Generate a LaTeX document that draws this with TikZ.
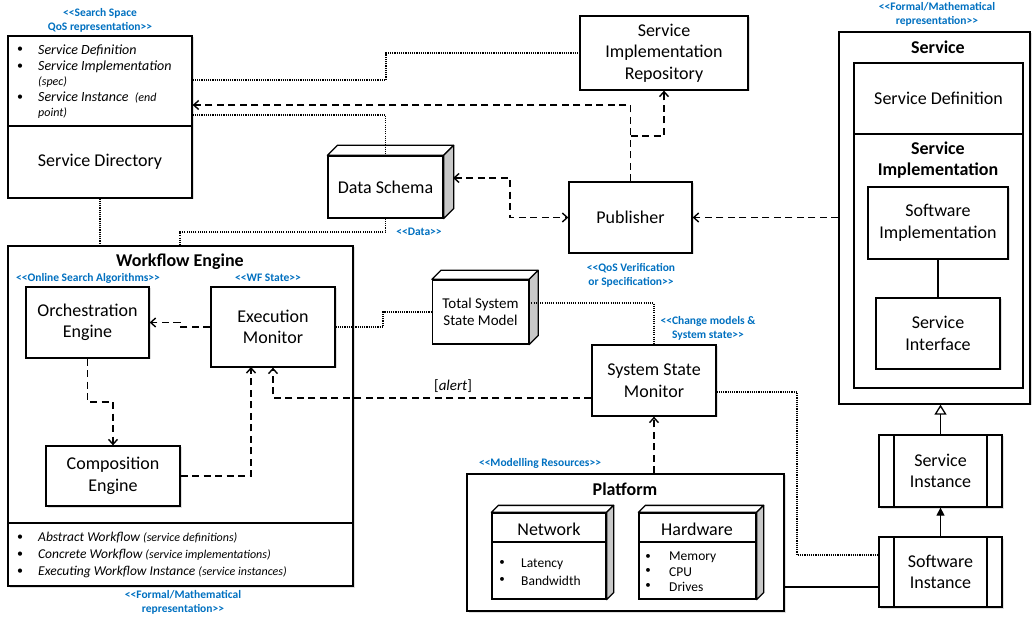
\documentclass[tikz,border=0pt]{standalone}
\usepackage{fontspec}
\setmainfont{Carlito}
\usetikzlibrary{arrows.meta,shadows,calc}
\definecolor{stereo}{RGB}{0,112,192}
\definecolor{sideface}{RGB}{200,200,200}
\newcommand{\fz}[2]{\fontsize{#1}{#2}\selectfont}
\newcommand{\lt}{<{}<}
\newcommand{\gt}{>{}>}
\tikzset{
  box/.style={draw, line width=1.3pt, fill=white, inner sep=0pt, align=center,
    font=\fz{18}{21.5}, drop shadow={opacity=0.25, shadow xshift=1.5pt, shadow yshift=-1.5pt}},
  plainbox/.style={draw, line width=1.3pt, fill=white, inner sep=0pt, align=center, font=\fz{18}{21.5}},
  face/.style={draw, line width=1.3pt, fill=white, line join=round},
  sface/.style={draw, line width=1.3pt, fill=sideface, line join=round},
  stereotype/.style={text=stereo, font=\bfseries\fz{11.5}{14}, align=center, inner sep=0pt},
  lbl/.style={inner sep=0pt, align=center},
  item/.style={inner sep=0pt, anchor=west},
  dashedc/.style={line width=1.8pt, dash pattern=on 7pt off 4.5pt},
  dottedc/.style={line width=1.1pt, dash pattern=on 1.1pt off 1.1pt},
  solidc/.style={line width=1.3pt},
  barb/.style={-{Straight Barb[length=5pt,width=9pt,line width=1.4pt]}},
  barbs/.style={{Straight Barb[length=5pt,width=9pt,line width=1.4pt]}-{Straight Barb[length=5pt,width=9pt,line width=1.4pt]}},
}
\begin{document}
\begin{tikzpicture}[x=1pt,y=-1pt]
\useasboundingbox (0,0) rectangle (1034,617);

% ---------- Service Directory ----------
\node[box, minimum width=184pt, minimum height=162pt] (sd) at (100,117) {};
\draw[solidc] (8,126) -- (192,126);
\node[lbl, font=\fz{18}{21}] (sdname) at (100,162) {Service Directory};
\node[inner sep=0pt] (sdb1) at (20,50) {\fz{12}{14}\textbullet};
\node[inner sep=0pt] (sdb2) at (20,67) {\fz{12}{14}\textbullet};
\node[inner sep=0pt] (sdb3) at (20,98) {\fz{12}{14}\textbullet};
\node[item, font=\itshape\fz{14}{16}] (sdi1) at (38,50) {Service Definition};
\node[item, font=\itshape\fz{14}{16}] (sdi2) at (38,67) {Service Implementation};
\node[item, font=\itshape\fz{12}{14}] (sdi2b) at (38,82) {(spec)};
\node[item, font=\itshape\fz{14}{16}] (sdi3) at (38,98) {Service Instance~~{\fz{12}{14}(end}};
\node[item, font=\itshape\fz{12}{14}] (sdi3b) at (38,113) {point)};
\node[stereotype] (st1) at (100,20) {\lt Search Space\\QoS representation\gt};

% ---------- Service Implementation Repository ----------
\node[box, minimum width=168pt, minimum height=74pt] (sir) at (664,53) {Service\\Implementation\\Repository};

% ---------- Data Schema (3D) ----------
\node[plainbox, minimum width=115pt, minimum height=62pt] (ds) at (385.5,187) {Data Schema};
\draw[face] (ds.north west) -- ++(10,-10) -- ($(ds.north east)+(10,-10)$) -- (ds.north east) -- cycle;
\draw[sface] (ds.north east) -- ++(10,-10) -- ($(ds.south east)+(10,-10)$) -- (ds.south east) -- cycle;
\node[stereotype] (st2) at (419,232) {\lt Data\gt};

% ---------- Publisher ----------
\node[box, minimum width=123pt, minimum height=71pt] (pub) at (630.5,217.5) {Publisher};
\node[stereotype] (st3) at (631,275) {\lt QoS Verification\\or Specification\gt};

% ---------- Service ----------
\node[box, minimum width=191pt, minimum height=372pt] (svc) at (934.5,218) {};
\node[lbl, font=\bfseries\fz{18}{21}] (svct) at (938,47) {Service};
\node[plainbox, minimum width=169pt, minimum height=71pt] (sdef) at (938.5,98.5) {Service Definition};
\node[plainbox, minimum width=169pt, minimum height=254pt] (simpl) at (938.5,261) {};
\node[lbl, font=\bfseries\fz{18}{21}] (simplt) at (938,160.5) {Service\\Implementation};
\node[box, minimum width=140pt, minimum height=72pt] (swimpl) at (938,223) {Software\\Implementation};
\node[box, minimum width=124pt, minimum height=71pt] (sif) at (938,333.5) {Service\\Interface};
\node[stereotype] (st4) at (937,14) {\lt Formal/Mathematical\\representation\gt};

% ---------- Service / Software Instance ----------
\node[box, minimum width=123pt, minimum height=72pt] (si) at (940.5,471) {Service\\Instance};
\draw[solidc] (894,435) -- (894,507) (987,435) -- (987,507);
\node[box, minimum width=123pt, minimum height=70pt] (swi) at (940.5,572) {Software\\Instance};
\draw[solidc] (894,537) -- (894,607) (987,537) -- (987,607);

% ---------- Workflow Engine ----------
\node[box, minimum width=345pt, minimum height=340pt] (we) at (180.5,416) {};
\draw[solidc] (8,523) -- (353,523);
\node[lbl, font=\bfseries\fz{18}{21}] (wet) at (180,262) {Workflow Engine};
\node[stereotype] (st5) at (88,278) {\lt Online Search Algorithms\gt};
\node[stereotype] (st6) at (268,278) {\lt WF State\gt};
\node[box, minimum width=123pt, minimum height=71pt] (orch) at (87.5,322.5) {Orchestration\\Engine};
\node[box, minimum width=124pt, minimum height=80pt] (exec) at (273,327) {Execution\\Monitor};
\node[box, minimum width=134pt, minimum height=60pt] (comp) at (113,476) {Composition\\Engine};
\node[inner sep=0pt] (web1) at (20,538) {\fz{12}{14}\textbullet};
\node[inner sep=0pt] (web2) at (20,555) {\fz{12}{14}\textbullet};
\node[inner sep=0pt] (web3) at (20,572) {\fz{12}{14}\textbullet};
\node[item, font=\itshape\fz{13.5}{15}] (wei1) at (38,538) {Abstract Workflow {\fz{12}{13}(service definitions)}};
\node[item, font=\itshape\fz{13.5}{15}] (wei2) at (38,555) {Concrete Workflow {\fz{12}{13}(service implementations)}};
\node[item, font=\itshape\fz{13.5}{15}] (wei3) at (38,572) {Executing Workflow Instance {\fz{12}{13}(service instances)}};
\node[stereotype] (st7) at (183,602) {\lt Formal/Mathematical\\representation\gt};

% ---------- Total System State Model (3D) ----------
\node[plainbox, minimum width=96pt, minimum height=64pt, font=\fz{15}{17}] (tssm) at (480.5,312) {Total System\\State Model};
\draw[face] (tssm.north west) -- ++(9,-9) -- ($(tssm.north east)+(9,-9)$) -- (tssm.north east) -- cycle;
\draw[sface] (tssm.north east) -- ++(9,-9) -- ($(tssm.south east)+(9,-9)$) -- (tssm.south east) -- cycle;

% ---------- System State Monitor ----------
\node[box, minimum width=124pt, minimum height=71pt] (ssm) at (654,380.5) {System State\\Monitor};
\node[stereotype] (st8) at (708,328) {\lt Change models \&\\System state\gt};

% ---------- Platform ----------
\node[box, minimum width=317pt, minimum height=137pt] (plat) at (625.5,542.5) {};
\node[lbl, font=\bfseries\fz{18}{21}] (platt) at (625,489) {Platform};
\node[stereotype] (st9) at (540,463) {\lt Modelling Resources\gt};

\node[plainbox, minimum width=114pt, minimum height=86pt] (net) at (549,556) {};
\draw[face] (net.north west) -- ++(7,-7) -- ($(net.north east)+(7,-7)$) -- (net.north east) -- cycle;
\draw[sface] (net.north east) -- ++(7,-7) -- ($(net.south east)+(7,-7)$) -- (net.south east) -- cycle;
\draw[solidc] (492,542) -- (606,542);
\node[lbl, font=\fz{18}{21}] (nett) at (549,529) {Network};
\node[inner sep=0pt] (netb1) at (502,563) {\fz{11}{13}\textbullet};
\node[inner sep=0pt] (netb2) at (502,580) {\fz{11}{13}\textbullet};
\node[item, font=\fz{13.5}{15}] (neti1) at (521,564) {Latency};
\node[item, font=\fz{13.5}{15}] (neti2) at (521,581) {Bandwidth};

\node[plainbox, minimum width=117pt, minimum height=86pt] (hw) at (697.5,556) {};
\draw[face] (hw.north west) -- ++(7,-7) -- ($(hw.north east)+(7,-7)$) -- (hw.north east) -- cycle;
\draw[sface] (hw.north east) -- ++(7,-7) -- ($(hw.south east)+(7,-7)$) -- (hw.south east) -- cycle;
\draw[solidc] (639,542) -- (756,542);
\node[lbl, font=\fz{18}{21}] (hwt) at (697,529) {Hardware};
\node[inner sep=0pt] (hwb1) at (648,557) {\fz{11}{13}\textbullet};
\node[inner sep=0pt] (hwb2) at (648,571) {\fz{11}{13}\textbullet};
\node[inner sep=0pt] (hwb3) at (648,586) {\fz{11}{13}\textbullet};
\node[item, font=\fz{13.5}{15}] (hwi1) at (669,557) {Memory};
\node[item, font=\fz{13.5}{15}] (hwi2) at (669,572) {CPU};
\node[item, font=\fz{13.5}{15}] (hwi3) at (669,587) {Drives};

% ---------- Connectors ----------
\draw[dottedc] (sd.east |- 0,80) -- (386,80) -- (386,53) -- (sir.west);
\draw[dashedc, barb] (pub.north) -- (pub.north |- 0,105) -- (sd.east |- 0,105);
\draw[dashedc, barb] (pub.north |- 0,136) -- (sir.south |- 0,136) -- (sir.south);
\draw[dottedc] (sd.east |- 0,115) -- (ds.north |- 0,115) -- (ds.north);
\draw[dottedc] (ds.south) -- (ds.south |- 0,232) -- (180,232) -- (180,246);
\draw[dottedc] (sd.south) -- (sd.south |- we.north);
\draw[dashedc, barbs] (453,178) -- (510,178) -- (510,217.5) -- (pub.west);
\draw[dashedc, barb] (svc.west |- pub.east) -- (pub.east);
\draw[dashedc, barb] (orch.south) -- (orch.south |- 0,402) -- (comp.north |- 0,402) -- (comp.north);
\draw[dashedc, barb] (exec.west) -- (180,327) -- (180,322.5) -- (orch.east);
\draw[dashedc, barb] (comp.east) -- (251,476) -- (251,367);
\draw[dashedc, barb] (ssm.west |- 0,398) -- (273,398) -- (exec.south);
\node[lbl, font=\fz{15}{17}] (alert) at (453,386) {[\textit{alert}]};
\draw[dottedc] (exec.east) -- (383,327) -- (383,312) -- (tssm.west);
\draw[dottedc] (tssm.east |- 0,303) -- (ssm.north |- 0,303) -- (ssm.north);
\draw[dottedc] (ssm.east |- 0,392) -- (797,392) -- (797,555) -- (swi.west |- 0,555);
\draw[dashedc, barb] (ssm.south |- plat.north) -- (ssm.south);
\draw[solidc] (plat.east |- 0,587) -- (swi.west |- 0,587);
\draw[solidc, -{Triangle[length=8pt,width=8pt]}] (swi.north) -- (si.south);
\draw[solidc, -{Triangle[open,length=10pt,width=12pt,line width=1.3pt]}] (si.north) -- (si.north |- svc.south);
\draw[solidc] (swimpl.south) -- (sif.north);
\end{tikzpicture}
\end{document}
